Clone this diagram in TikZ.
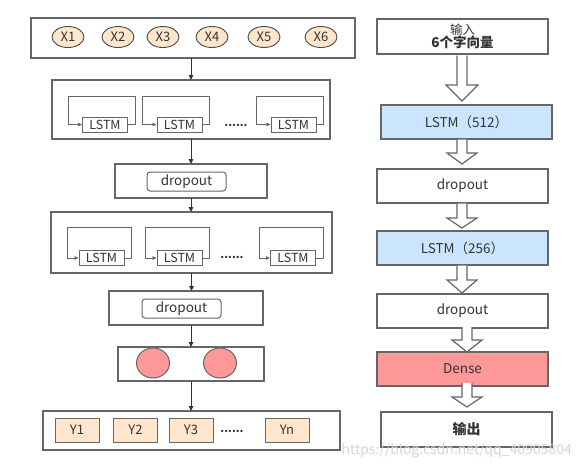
\documentclass[tikz,border=0pt]{standalone}
\usepackage{fontspec}
\setmainfont{Noto Sans CJK SC}
\usetikzlibrary{arrows.meta,calc,shapes.geometric}
\definecolor{ln}{HTML}{666666}
\definecolor{ar}{HTML}{333333}
\definecolor{peach}{HTML}{FFE6CC}
\definecolor{lblue}{HTML}{CCE5FF}
\definecolor{lred}{HTML}{FF9999}
\newcommand{\fs}[1]{\fontsize{#1}{#1}\selectfont}
\newcommand{\blkarrow}[6]{% cx, y0, yh, y1, shaft half, head half
  \filldraw[barr] (#1-#5,#2) -- (#1-#5,#3) -- (#1-#6,#3) -- (#1,#4) -- (#1+#6,#3) -- (#1+#5,#3) -- (#1+#5,#2);}
\tikzset{
  sz/.style 2 args={minimum width=#1pt, minimum height=#2pt},
  box/.style={draw=ln, line width=1.3pt, inner sep=0pt, outer sep=0pt, fill=white},
  xel/.style={ellipse, draw=ar!90, line width=0.9pt, fill=peach, inner sep=0pt, sz={32}{21}, font=\fs{13}, text=ar},
  cell/.style={draw=ln, line width=1pt, fill=white, inner sep=0pt, sz={45}{15}, font=\fs{12.5}, text=ar},
  ycell/.style={draw=ln, line width=1pt, fill=peach, inner sep=0pt, sz={44}{24}, font=\fs{13}, text=ar},
  pill/.style={draw=ln, line width=1pt, rounded corners=3pt, fill=white, inner sep=0pt, sz={79}{19}, font=\fs{13.5}, text=ar},
  dotsn/.style={inner sep=0pt, font=\fs{11}\bfseries, text=ar},
  lp/.style={draw=ln, line width=0.9pt, -{Triangle[length=4pt,width=3.5pt]}},
  arr/.style={draw=ar, line width=1pt, -{Triangle[length=5pt,width=4.5pt]}},
  rbox/.style={box, sz={171}{34}, font=\fs{13.5}, text=ar},
  barr/.style={draw=ln, line width=1.2pt, fill=white, line join=miter},
}
\begin{document}
\begin{tikzpicture}[x=1pt,y=-1pt]
\fill[white] (0,0) rectangle (580,467);
\useasboundingbox (0,0) rectangle (580,467);

% ---------- left column ----------
\node[box, sz={324}{40}] (top) at (193,38) {};
\foreach \n/\x in {1/68,2/118,3/163,4/212,5/264,6/321}
  \node[xel] (x\n) at (\x,37) {X\n};

\node[box, sz={278}{59}] (la) at (191,109.5) {};
\node[cell] (la1) at (105,124.5) {LSTM};
\node[cell] (la2) at (179.5,124.5) {LSTM};
\node[cell] (la3) at (293.5,124.5) {LSTM};
\node[dotsn] (lad) at (236,125) {......};
\foreach \c in {la1,la2,la3}
  \draw[lp] (\c.east) -- ++(7,0) |- ([xshift=-14pt,yshift=28.5pt]\c.west) |- (\c.west);

\node[box, sz={152}{34}] (da) at (191,181) {};
\node[pill] (dai) at (186.5,181.5) {dropout};

\node[box, sz={281}{61}] (lb) at (191.5,242.5) {};
\node[cell] (lb1) at (101.5,258) {LSTM};
\node[cell] (lb2) at (179.5,258) {LSTM};
\node[cell] (lb3) at (293,258) {LSTM};
\node[dotsn] (lbd) at (232,257) {......};
\foreach \c in {lb1,lb2,lb3}
  \draw[lp] (\c.east) -- ++(7,0) |- ([xshift=-11pt,yshift=31pt]\c.west) |- (\c.west);

\node[box, sz={154}{34}] (db) at (186,308) {};
\node[pill] (dbi) at (181.5,308.5) {dropout};

\node[box, sz={146}{34}] (cb) at (191,364) {};
\node[ellipse, draw=ln, line width=1pt, fill=lred, sz={33}{30}] (c1) at (153,363) {};
\node[ellipse, draw=ln, line width=1pt, fill=lred, sz={33}{30}] (c2) at (220,363) {};

\node[box, sz={297}{39}] (yb) at (191.5,430.5) {};
\node[ycell] (y1) at (77,430) {Y1};
\node[ycell] (y2) at (135.5,430) {Y2};
\node[ycell] (y3) at (191,430) {Y3};
\node[dotsn] (ydots) at (232,431) {......};
\node[ycell] (yn) at (287,430) {Yn};

\draw[arr] (top.south -| la.north) -- (la.north);
\draw[arr] (la.south) -- (la.south |- da.north);
\draw[arr] (da.south) -- (da.south |- lb.north);
\draw[arr] (lb.south) -- (lb.south |- db.north);
\draw[arr] (db.south -| cb.north) -- (cb.north);
\draw[arr] (cb.south) -- (cb.south |- yb.north);

% ---------- right column ----------
\node[rbox, minimum height=35pt, align=center] (in) at (462.5,36.5)
  {\fontsize{12.5}{16}\selectfont 输入\\\textbf{6个字向量}};
\node[rbox, fill=lblue] (l512) at (466.5,122) {LSTM（512）};
\node[rbox] (d1) at (462.5,186) {dropout};
\node[rbox, fill=lblue] (l256) at (462.5,248) {LSTM（256）};
\node[rbox] (d2) at (462.5,311) {dropout};
\node[rbox, fill=lred] (dense) at (462.5,369) {Dense};
\node[rbox, minimum height=35pt, font=\fs{14}\bfseries] (out) at (466.5,429.5) {输出};

\blkarrow{462}{55.5}{85}{101}{5}{16}
\blkarrow{462}{139.5}{153}{164}{5}{15}
\blkarrow{462}{203.5}{218}{228}{5}{15}
\blkarrow{462}{265.5}{280}{293}{5}{15}
\blkarrow{467}{327}{340}{352}{5}{15}
\blkarrow{467}{383}{397}{407}{5}{15}

\node[anchor=east, inner sep=0pt, text=black!16, font=\fs{14}] (wm) at (572,451) {https://blog.csdn.net/qq\_40905804};
\end{tikzpicture}
\end{document}
